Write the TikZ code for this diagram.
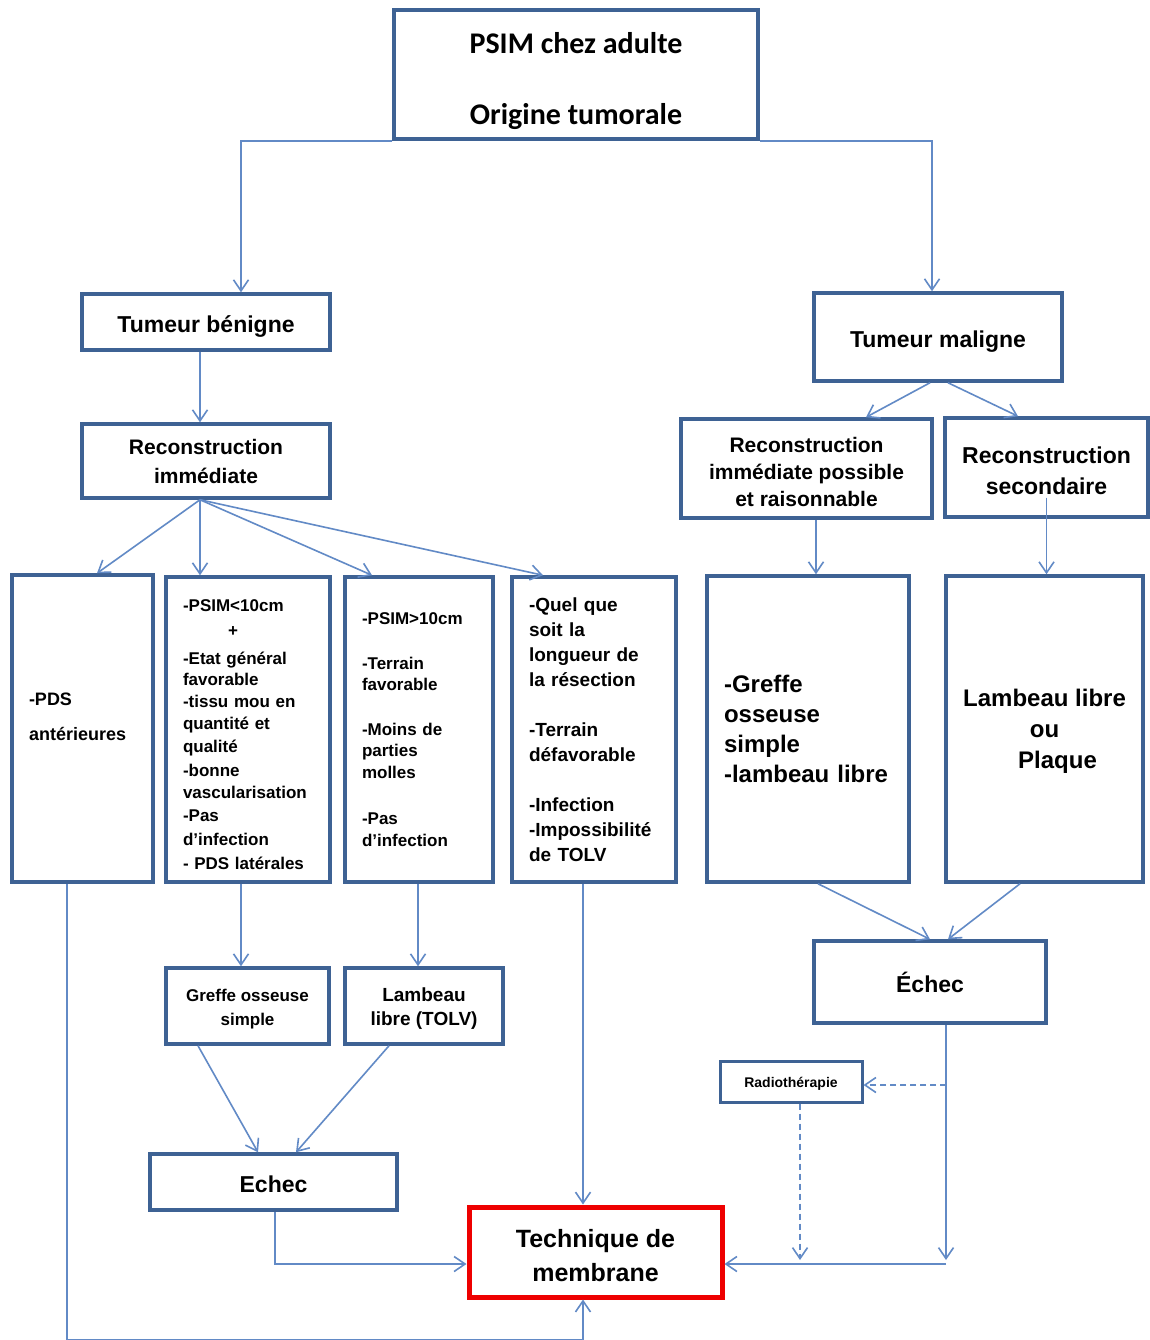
\documentclass[tikz,border=0pt]{standalone}
\usepackage{fontspec}
\setmainfont{Liberation Sans}
\newfontfamily\titlefont{Carlito}
\usetikzlibrary{arrows.meta}
\definecolor{boxc}{RGB}{62,98,148}
\definecolor{linec}{RGB}{98,138,198}
\definecolor{redc}{RGB}{238,0,0}
\newcommand\dnstrut[1]{\rule{0pt}{#1}}
\begin{document}
\begin{tikzpicture}[x=1pt,y=-1pt,
  box/.style={draw=boxc,line width=3.5pt,fill=white,inner xsep=17pt,inner ysep=2pt,align=center},
  tallbox/.style={box,align=left},
  conn/.style={draw=linec,line width=1.6pt,-{Straight Barb[length=11pt,width=15pt,line width=1.6pt]}},
  dashconn/.style={conn,dash pattern=on 6pt off 4pt}]
\useasboundingbox[fill=white] (0,0) rectangle (1150,1340);

% top
\node[box,minimum width=364pt,minimum height=129pt,font=\titlefont\bfseries\fontsize{30}{36}\selectfont] (top) at (576,74.5) {\dnstrut{34pt}PSIM chez adulte\\[35pt]Origine tumorale};

% benign side
\node[box,minimum width=248pt,minimum height=56pt,font=\bfseries\fontsize{23}{28}\selectfont] (tb) at (206,322) {\dnstrut{25pt}Tumeur bénigne};
\node[box,minimum width=248pt,minimum height=74pt,font=\bfseries\fontsize{21}{29}\selectfont] (ri) at (206,461) {Reconstruction\\immédiate};

\node[tallbox,text width=107pt,minimum height=307pt,font=\bfseries\fontsize{18}{22}\selectfont] (pds) at (82.5,728.5) {-PDS\\[13pt]antérieures\\[2pt]\mbox{}};
\node[tallbox,text width=130pt,minimum height=305pt,font=\bfseries\fontsize{17}{23}\selectfont] (p1) at (248,729.5) {\dnstrut{22pt}-PSIM<10cm\\[2pt]\hspace*{45pt}+\\[5pt]-Etat général\\[-2pt]favorable\\[-1pt]-tissu mou en\\[-1pt]quantité et\\qualité\\[1pt]-bonne\\[-1pt]vascularisation\\-Pas\\[1pt]d’infection\\[1pt]- PDS latérales};
\node[tallbox,text width=114pt,minimum height=305pt,font=\bfseries\fontsize{17}{21.5}\selectfont] (p2) at (419,729.5) {-PSIM>10cm\\[23pt]-Terrain\\favorable\\[23pt]-Moins de\\parties\\molles\\[25pt]-Pas\\d’infection};
\node[tallbox,text width=130pt,minimum height=305pt,font=\bfseries\fontsize{19}{25}\selectfont] (qq) at (594,729.5) {-Quel que\\soit la\\longueur de\\la résection\\[25pt]-Terrain\\défavorable\\[25pt]-Infection\\-Impossibilité\\de TOLV};

\node[box,inner xsep=4pt,minimum width=163pt,minimum height=76pt,font=\bfseries\fontsize{17}{24}\selectfont] (gs) at (247.5,1006) {\dnstrut{18.4pt}Greffe osseuse\\simple};
\node[box,inner xsep=4pt,minimum width=158pt,minimum height=76pt,font=\bfseries\fontsize{19}{24}\selectfont] (lt) at (424,1006) {\dnstrut{19.9pt}Lambeau\\libre (TOLV)};
\node[box,minimum width=247pt,minimum height=56pt,font=\bfseries\fontsize{23}{28}\selectfont] (el) at (273.5,1182) {\dnstrut{20.8pt}Echec};

% malignant side
\node[box,minimum width=248pt,minimum height=88pt,font=\bfseries\fontsize{23}{28}\selectfont] (tm) at (938,337) {\dnstrut{25pt}Tumeur maligne};
\node[box,inner xsep=4pt,minimum width=251pt,minimum height=99pt,font=\bfseries\fontsize{21}{27}\selectfont] (rp) at (806.5,468.5) {\dnstrut{22.3pt}Reconstruction\\immédiate possible\\et raisonnable};
\node[box,inner xsep=4pt,minimum width=203pt,minimum height=99pt,font=\bfseries\fontsize{23}{31}\selectfont] (rs) at (1046.5,467.5) {\dnstrut{22.8pt}Reconstruction\\secondaire};

\node[tallbox,text width=168pt,minimum height=306pt,font=\bfseries\fontsize{24}{30}\selectfont] (gr) at (808,729) {-Greffe\\osseuse\\simple\\-lambeau libre};
\node[box,inner xsep=4pt,minimum width=197pt,minimum height=306pt,font=\bfseries\fontsize{24}{31}\selectfont] (lp) at (1044.5,729) {\dnstrut{21.5pt}Lambeau libre\\ou\\\hspace*{26pt}Plaque};

\node[box,minimum width=232pt,minimum height=82pt,font=\bfseries\fontsize{23}{28}\selectfont] (er) at (930,982) {Échec};
\node[box,line width=3pt,inner xsep=3pt,minimum width=142pt,minimum height=41pt,font=\bfseries\fontsize{14}{16}\selectfont] (rad) at (791,1081.5) {\dnstrut{14.2pt}Radiothérapie};

\node[box,draw=redc,line width=5pt,minimum width=253pt,minimum height=90pt,font=\bfseries\fontsize{25}{34}\selectfont] (tech) at (595.5,1252) {\dnstrut{25.2pt}Technique de\\membrane};

% connectors
\draw[conn] (top.south west) -| ([xshift=35pt]tb.north);
\draw[conn] (top.south east) -| ([xshift=-6pt]tm.north);
\draw[conn] ([xshift=-6pt]tb.south) -- ([xshift=-6pt]ri.north);
\draw[conn] ([xshift=-6pt]ri.south) -- ([xshift=14.5pt]pds.north);
\draw[conn] ([xshift=-6pt]ri.south) -- ([xshift=-48pt]p1.north);
\draw[conn] ([xshift=-6pt]ri.south) -- ([xshift=-47pt]p2.north);
\draw[conn] ([xshift=-6pt]ri.south) -- ([xshift=-51pt]qq.north);

\draw[conn] ([xshift=-8pt]tm.south) -- ([xshift=59.5pt]rp.north);
\draw[conn] ([xshift=10pt]tm.south) -- ([xshift=-28.5pt]rs.north);
\draw[conn] ([xshift=9.5pt]rp.south) -- ([xshift=9.5pt]rp.south |- gr.north);
\coordinate (rsin) at ([yshift=-30pt]rs.center);
\draw[conn] (rsin) -- (rsin |- lp.north);

\draw[conn] ([xshift=-7pt]p1.south) -- ([xshift=-7pt]p1.south |- gs.north);
\draw[conn] ([xshift=-1pt]p2.south) -- ([xshift=-1pt]p2.south |- lt.north);
\draw[conn] ([xshift=-49.5pt]gs.south) -- ([xshift=-15.5pt]el.north);
\draw[conn] ([xshift=-35pt]lt.south) -- ([xshift=22.5pt]el.north);
\draw[conn] ([xshift=-11pt]qq.south) -- ([xshift=-11pt]qq.south |- tech.north);

\draw[conn] ([xshift=10pt]gr.south) -- (er.north);
\draw[conn] ([xshift=-24.5pt]lp.south) -- ([xshift=18pt]er.north);

\coordinate (jv) at (946,1260);
\coordinate (jr) at (946,1264);
\coordinate (jd) at (946,1085);
\draw[conn] ([xshift=16pt]er.south) -- (jv);
\draw[conn] (jr) -- (jr -| tech.east);
\draw[dashconn] (jd) -- (jd -| rad.east);
\draw[dashconn] ([xshift=9pt]rad.south) -- ([xshift=9pt]rad.south |- jv);

\draw[conn] ([xshift=1.5pt]el.south) |- (jr -| tech.west);
\draw[conn] ([xshift=-15.5pt]pds.south) -- ++(0,456) -| ([xshift=-12.5pt]tech.south);
\end{tikzpicture}
\end{document}
